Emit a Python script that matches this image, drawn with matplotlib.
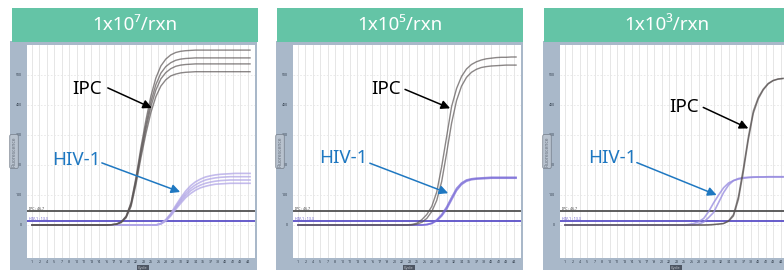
import numpy as np
import matplotlib.pyplot as plt
from matplotlib.patches import Rectangle

plt.rcParams['font.family'] = ['Noto Sans', 'DejaVu Sans']

W, H = 784, 270

# ciclos de la PCR
ciclos = np.arange(1, 46)

titulos = ["1x10\u2077/rxn", "1x10\u2075/rxn", "1x10\u00b3/rxn"]

# umbrales (fluorescencia)
umbral_ipc = 47
umbral_hiv = 13

# 1x10^7 : IPC (4 réplicas) y HIV-1 (4 réplicas)
ipc_1 = [
    [0] * 16 + [1, 3, 10, 30, 75, 160, 260, 350, 430, 490, 530, 553, 567, 575, 579, 581, 582] + [583] * 12,
    [0] * 16 + [1, 3, 10, 28, 72, 153, 248, 334, 411, 468, 506, 528, 541, 549, 553, 555, 556] + [557] * 12,
    [0] * 16 + [1, 3, 9, 26, 67, 145, 238, 321, 395, 450, 487, 508, 521, 529, 533, 535, 536] + [537] * 12,
    [0] * 16 + [1, 2, 8, 24, 62, 136, 225, 305, 375, 428, 463, 484, 497, 503, 507, 509, 510] + [511] * 12,
]
hiv_1 = [
    [0] * 26 + [5, 18, 38, 65, 90, 113, 131, 144, 153, 160, 164, 167, 169, 170, 171] + [172] * 4,
    [0] * 26 + [4, 16, 35, 60, 84, 105, 122, 134, 143, 150, 154, 157, 159, 160, 161] + [161] * 4,
    [0] * 26 + [4, 15, 33, 56, 78, 98, 114, 125, 133, 139, 143, 146, 148, 149, 150] + [150] * 4,
    [0] * 26 + [3, 13, 30, 52, 72, 91, 105, 116, 124, 129, 133, 136, 137, 138, 139] + [139] * 4,
]

# 1x10^5
ipc_2 = [
    [0] * 23 + [2, 6, 18, 35, 62, 110, 195, 295, 395, 455, 495, 520, 535, 544, 550, 554, 556, 558, 559, 559, 560, 560],
    [0] * 24 + [3, 9, 22, 45, 82, 145, 240, 340, 415, 463, 492, 509, 519, 525, 528, 530, 531, 532, 533, 533, 533],
]
hiv_2 = [
    [0] * 26 + [2, 6, 17, 35, 60, 92, 122, 140, 150, 154, 156, 157, 158] + [159] * 6,
    [0] * 26 + [1, 5, 14, 30, 53, 84, 115, 135, 146, 151, 153, 154, 155] + [156] * 6,
]

# 1x10^3
ipc_3 = [
    [0] * 29 + [1, 2, 3, 5, 14, 35, 95, 190, 294, 380, 425, 453, 472, 482, 487, 489],
    [0] * 29 + [0, 1, 3, 5, 12, 30, 85, 178, 284, 372, 420, 450, 470, 481, 486, 488],
]
hiv_3 = [
    [0] * 25 + [2, 5, 11, 22, 45, 74, 100, 124, 140, 148, 153, 156, 158, 159, 160, 160, 161, 161, 161, 161],
    [0] * 27 + [3, 10, 25, 42, 75, 108, 133, 148, 155, 158, 159, 160, 160, 160, 160, 160, 160, 160],
]

series_ipc = [ipc_1, ipc_2, ipc_3]
series_hiv = [hiv_1, hiv_2, hiv_3]
color_hiv = ['#b0a5e6', '#7566d6', '#9488df']

# posiciones de los textos/flechas (ciclo, fluorescencia)
texto_ipc = [(12.2, 455), (18.8, 455), (25.0, 392)]
flecha_ipc = [((16.3, 457), (25.2, 390)), ((22.6, 452), (31.7, 389)), ((28.9, 392), (38.0, 322))]
texto_hiv = [(10.0, 218), (10.2, 222), (10.6, 222)]
flecha_hiv = [((15.1, 207), (30.9, 110)), ((15.5, 206), (31.3, 106)), ((15.5, 208), (31.6, 100))]

blanco_izq = [27, 293, 560]
marco_izq = [10, 276, 543]
cabecera_izq = [12, 277, 544]

fig = plt.figure(figsize=(W / 100, H / 100), dpi=100)


def rect_px(x0, y0, x1, y1, color, z):
    fig.add_artist(Rectangle((x0 / W, 1 - y1 / H), (x1 - x0) / W, (y1 - y0) / H,
                             transform=fig.transFigure, facecolor=color,
                             edgecolor='none', zorder=z))


for i in range(3):
    wl = blanco_izq[i]
    rect_px(marco_izq[i], 41, wl + 230, 270, '#a9b8c9', -2)
    rect_px(cabecera_izq[i], 8, cabecera_izq[i] + 246, 42, '#64c4a6', 1)
    fig.text((cabecera_izq[i] + 123) / W, 1 - 25.5 / H, titulos[i], color='white',
             fontsize=13.5, ha='center', va='center', zorder=2)

    ax = fig.add_axes([wl / W, 1 - 258 / H, 228 / W, 213 / H])
    ax.set_xlim(0, 46)
    ax.set_ylim(-110, 600)
    for s in ax.spines.values():
        s.set_visible(False)

    xt = np.arange(1, 46, 1.5)
    ax.set_xticks(xt)
    ax.set_xticklabels([str(int(t)) for t in xt])
    ax.set_yticks(np.arange(0, 501, 100))
    ax.tick_params(length=0, labelsize=2.6, labelcolor='#34404e')
    ax.tick_params(axis='x', pad=1.2)
    ax.tick_params(axis='y', pad=3.5)
    ax.grid(axis='x', color='#e2e2e2', lw=0.6)
    ax.grid(axis='y', color='#e6e6e6', lw=0.6, ls=(0, (2, 2)))
    ax.set_axisbelow(True)

    ax.text(-0.057, 0.5, 'Fluorescence', transform=ax.transAxes, rotation=90,
            fontsize=3.6, color='#6b7480', ha='center', va='center',
            bbox=dict(boxstyle='round,pad=0.35', fc='#b8c2ce', ec='#737c88', lw=0.5),
            clip_on=False)
    ax.text(0.509, -0.047, 'Cycle', transform=ax.transAxes, fontsize=2.8,
            color='#c8ccd2', ha='center', va='center',
            bbox=dict(boxstyle='square,pad=0.3', fc='#4d5562', ec='none'),
            clip_on=False)

    # umbrales
    ax.axhline(umbral_ipc, color='#505050', lw=1.3, zorder=2)
    ax.axhline(umbral_hiv, color='#5b4fc7', lw=1.3, zorder=2)
    ax.text(0.4, umbral_ipc + 4, 'IPC : 46.7', fontsize=2.5, color='#404040')
    ax.text(0.4, umbral_hiv + 4, 'HIV-1 : 13.3', fontsize=2.5, color='#5b4fc7')

    for curva in series_hiv[i]:
        ax.plot(ciclos, curva, color=color_hiv[i], lw=1.2, alpha=0.75, zorder=3)
    for curva in series_ipc[i]:
        ax.plot(ciclos, curva, color='#5a5454', lw=1.0, alpha=0.7, zorder=4)

    ax.text(*texto_ipc[i], 'IPC', fontsize=13.5, color='black', ha='center', va='center', zorder=6)
    ax.annotate('', xy=flecha_ipc[i][1], xytext=flecha_ipc[i][0],
                arrowprops=dict(arrowstyle='-|>', color='black', lw=1.1,
                                mutation_scale=13, shrinkA=0, shrinkB=0), zorder=6)
    ax.text(*texto_hiv[i], 'HIV-1', fontsize=13.5, color='#1f78c1', ha='center', va='center', zorder=6)
    ax.annotate('', xy=flecha_hiv[i][1], xytext=flecha_hiv[i][0],
                arrowprops=dict(arrowstyle='-|>', color='#1f78c1', lw=1.1,
                                mutation_scale=13, shrinkA=0, shrinkB=0), zorder=6)

fig.savefig('out.png', dpi=100)
